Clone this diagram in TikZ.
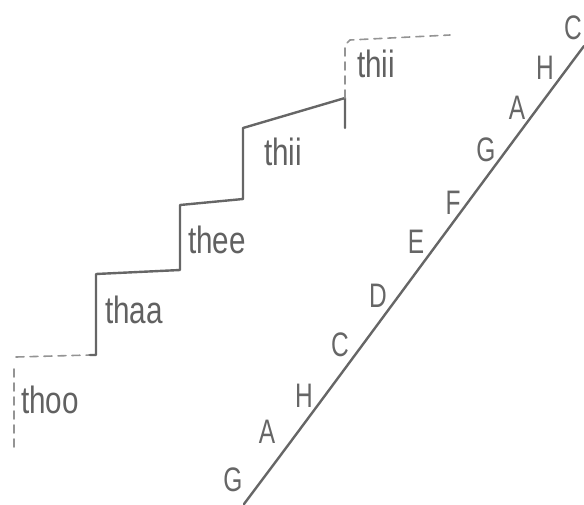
\documentclass[tikz,border=0pt]{standalone}
\usepackage{fontspec}
\setmainfont{Liberation Sans}
\tikzset{
  pencil/.style={draw=black!60, line width=2.4pt, line join=round, line cap=round},
  dashpencil/.style={draw=black!42, line width=1.6pt, dash pattern=on 8pt off 6pt, line cap=round},
  steplabel/.style={text=black!62, font=\fontsize{38}{38}\selectfont, inner sep=0pt, xscale=0.78, transform shape},
  notelabel/.style={text=black!60, font=\fontsize{34}{34}\selectfont, inner sep=0pt, xscale=0.72, transform shape}
}
\begin{document}
\begin{tikzpicture}[x=1pt,y=-1pt]
\useasboundingbox (0,0) rectangle (584,504);
% stair corners
\coordinate (d0) at (14,447);
\coordinate (d1) at (14,366);
\coordinate (d2) at (16,357);
\coordinate (s0) at (90,355);
\coordinate (s1) at (96,355);
\coordinate (s2) at (96,274);
\coordinate (s3) at (180,270);
\coordinate (s4) at (180,205);
\coordinate (s5) at (243,199);
\coordinate (s6) at (243,128);
\coordinate (s7) at (345,98);
\coordinate (s8) at (345,128);
\coordinate (t1) at (345,45);
\coordinate (t2) at (350,40);
\coordinate (t3) at (450,35);
% staircase
\draw[dashpencil] (d0) -- (d1);
\draw[dashpencil] (d2) -- (s0);
\draw[pencil] (s0) -- (s1) -- (s2) -- (s3) -- (s4) -- (s5) -- (s6) -- (s7) -- (s8);
\draw[dashpencil] (s7) -- (t1) -- (t2) -- (t3);
% step labels
\node[steplabel] (lthoo) at (50,400) {thoo};
\node[steplabel] (lthaa) at (134,310) {thaa};
\node[steplabel] (lthee) at (217,240) {thee};
\node[steplabel] (lthii) at (283,152) {thii};
\node[steplabel] (lthiitop) at (376,64) {thii};
% diagonal line
\coordinate (l0) at (244,504);
\coordinate (l1) at (584,46);
\draw[pencil] (l0) .. controls (330,390) and (480,185) .. (l1);
% note labels
\node[notelabel] (n1) at (233,480) {G};
\node[notelabel] (n2) at (267,432) {A};
\node[notelabel] (n3) at (304,396) {H};
\node[notelabel] (n4) at (340,345) {C};
\node[notelabel] (n5) at (378,296) {D};
\node[notelabel] (n6) at (416,242) {E};
\node[notelabel] (n7) at (453,203) {F};
\node[notelabel] (n8) at (486,150) {G};
\node[notelabel] (n9) at (517,108) {A};
\node[notelabel] (n10) at (545,68) {H};
\node[notelabel] (n11) at (573,28) {C};
\end{tikzpicture}
\end{document}
